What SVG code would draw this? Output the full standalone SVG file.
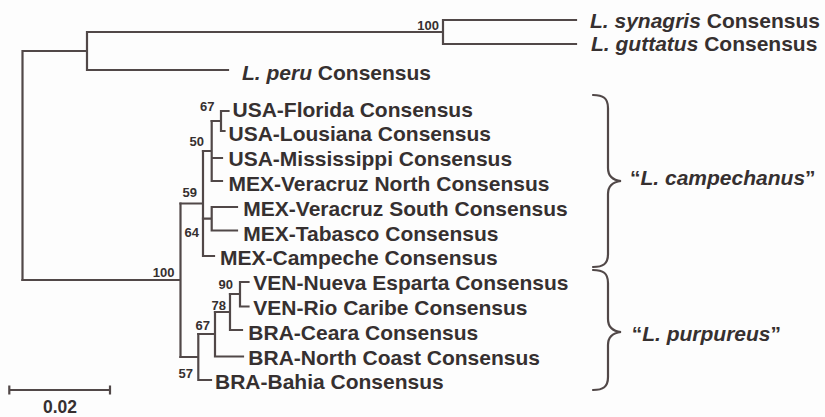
<svg xmlns="http://www.w3.org/2000/svg" width="825" height="417" viewBox="0 0 825 417">
<style>
  .ln { fill: none; stroke: #514848; stroke-width: 2.2; stroke-linecap: square; }
  .br { fill: none; stroke: #514848; stroke-width: 2.2; stroke-linecap: round; }
  text { font-family: "Liberation Sans", Arial, sans-serif; font-weight: bold; fill: #363030; }
  .lbl { font-size: 21px; }
  .it { font-style: italic; }
  .bs { font-size: 13px; text-anchor: end; }
  .sc { font-size: 17.5px; text-anchor: middle; }
</style>
<rect width="825" height="417" fill="#fdfdfd"/>
<g id="connectors" class="ln">
  <path d="M22.5,51 V280 M22.5,51 H87 M87,32 V70 M87,32 H443 M443,20 V44 M443,20 H576 M443,44 H576 M87,70 H228"/>
  <path d="M22.5,280 H180.5 M180.5,203.5 V357"/>
  <path d="M180.5,203.5 H203 M203,151 V256 M203,256 H214"/>
  <path d="M203,151 H211.7 M211.7,121 V181 M211.7,158 H222 M211.7,181 H222"/>
  <path d="M211.7,121 H221 M221,111 V131 M221,111 H228.5 M221,131 H224.5"/>
  <path d="M203,218.7 H211.7 M211.7,207 V230.5 M211.7,207 H237 M211.7,230.5 H237"/>
  <path d="M180.5,357 H198.3 M198.3,334 V380 M198.3,380 H211"/>
  <path d="M198.3,334 H215 M215,312 V356.5 M215,356.5 H243"/>
  <path d="M215,312 H230 M230,294 V330 M230,330 H242"/>
  <path d="M230,294 H240 M240,282 V306.5 M240,282 H248.5 M240,306.5 H248.5"/>
</g>
<g id="bootstrap">
  <text class="bs" x="439" y="29.5">100</text>
  <text class="bs" x="214.5" y="111">67</text>
  <text class="bs" x="204" y="146">50</text>
  <text class="bs" x="197" y="197">59</text>
  <text class="bs" x="199" y="237">64</text>
  <text class="bs" x="174.5" y="277">100</text>
  <text class="bs" x="233" y="289">90</text>
  <text class="bs" x="226" y="310">78</text>
  <text class="bs" x="210" y="330">67</text>
  <text class="bs" x="193" y="378">57</text>
</g>
<g id="n-synagris"><text class="lbl" x="590" y="27.5"><tspan class="it">L. synagris</tspan> Consensus</text></g>
<g id="n-guttatus"><text class="lbl" x="591" y="50.5"><tspan class="it">L. guttatus</tspan> Consensus</text></g>
<g id="n-peru"><text class="lbl" x="242" y="80"><tspan class="it">L. peru</tspan> Consensus</text></g>
<g id="n-florida"><text class="lbl" x="232.5" y="116.5">USA-Florida Consensus</text></g>
<g id="n-lousiana"><text class="lbl" x="228.5" y="141.3">USA-Lousiana Consensus</text></g>
<g id="n-mississippi"><text class="lbl" x="228.5" y="166.1">USA-Mississippi Consensus</text></g>
<g id="n-veracruz-north"><text class="lbl" x="228.5" y="190.9">MEX-Veracruz North Consensus</text></g>
<g id="n-veracruz-south"><text class="lbl" x="243.3" y="215.7">MEX-Veracruz South Consensus</text></g>
<g id="n-tabasco"><text class="lbl" x="243.3" y="240.5">MEX-Tabasco Consensus</text></g>
<g id="n-campeche"><text class="lbl" x="220" y="265.3">MEX-Campeche Consensus</text></g>
<g id="n-nueva-esparta"><text class="lbl" x="253.3" y="290.1">VEN-Nueva Esparta Consensus</text></g>
<g id="n-rio-caribe"><text class="lbl" x="253.3" y="314.9">VEN-Rio Caribe Consensus</text></g>
<g id="n-ceara"><text class="lbl" x="248.3" y="339.7">BRA-Ceara Consensus</text></g>
<g id="n-north-coast"><text class="lbl" x="248.3" y="364.5">BRA-North Coast Consensus</text></g>
<g id="n-bahia"><text class="lbl" x="215" y="389.3">BRA-Bahia Consensus</text></g>
<g id="brace-campechanus">
  <path class="br" d="M593,95 C603,95 608,98 608,108 V168 C608,176 612,180 621,181 C612,182 608,186 608,194 V254 C608,264 603,267 593,267"/>
  <text class="lbl" x="630" y="185">“<tspan class="it">L. campechanus</tspan>”</text>
</g>
<g id="brace-purpureus">
  <path class="br" d="M593,270 C603,270 608,273 608,283 V319 C608,327 612,331 621,332 C612,333 608,337 608,345 V377 C608,387 603,390 593,390"/>
  <text class="lbl" x="631.7" y="340.5">“<tspan class="it">L. purpureus</tspan>”</text>
</g>
<g id="scale-bar">
  <path class="ln" d="M9.3,390 H110 M9.3,386.5 V393.5 M110,386.5 V393.5"/>
  <text class="sc" x="60" y="413">0.02</text>
</g>
</svg>
